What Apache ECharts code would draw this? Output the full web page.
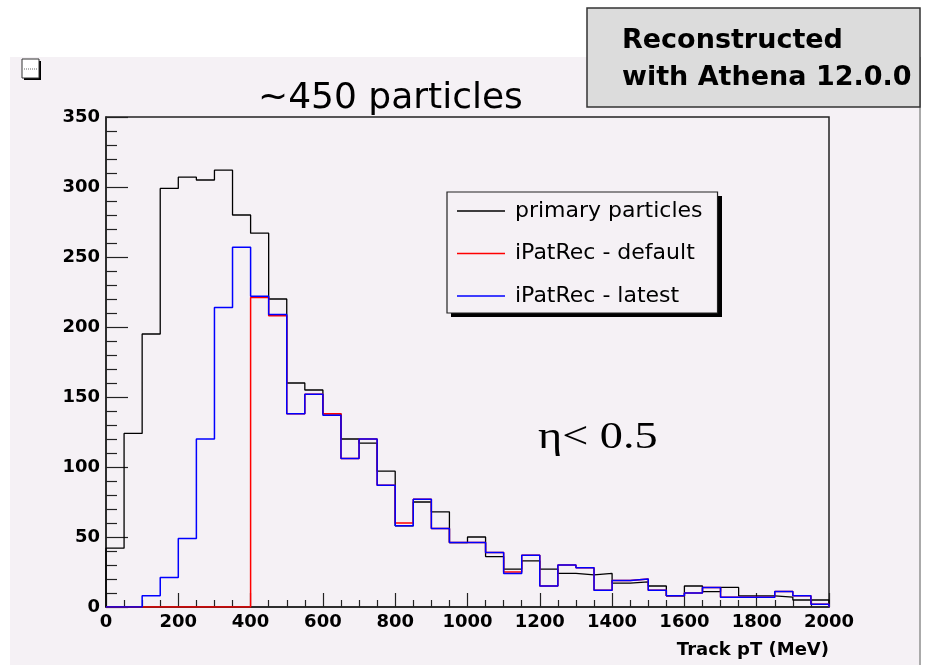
<!DOCTYPE html>
<html>
<head>
<meta charset="utf-8">
<script src="https://cdn.jsdelivr.net/npm/echarts@6/dist/echarts.min.js"></script>
<style>
html,body{margin:0;padding:0;background:#ffffff;}
#chart{width:931px;height:665px;}
</style>
</head>
<body>
<div id="chart"></div>
<script>
// Bin edges (MeV), 50 MeV bins from 0 to 2000
const binEdges = [0,50,100,150,200,250,300,350,400,450,500,550,600,650,700,750,800,850,900,950,
  1000,1050,1100,1150,1200,1250,1300,1350,1400,1450,1500,1550,1600,1650,1700,1750,1800,1850,1900,1950,2000];

// Counts per bin
const primaryParticles = [42,124,195,299,307,305,312,280,267,220,160,155,138,120,117,97,58,75,68,46,
  50,36,27,33,27,24,23,24,17,18,15,8,15,11,14,8,8,7,5,5];
const iPatRecDefault = [0,0,0,0,0,0,0,0,221,208,138,152,138,106,120,87,60,77,56,46,
  46,39,25,37,15,30,28,12,19,20,12,8,10,14,7,7,7,11,8,2];
const iPatRecLatest = [0,0,8,21,49,120,214,257,222,209,138,152,137,106,120,87,58,77,56,46,
  46,39,24,37,15,30,28,12,19,20,12,8,10,14,7,7,7,11,8,2];

const seriesNames = ['primary particles','iPatRec - default','iPatRec - latest'];
const yTicks = [0,50,100,150,200,250,300,350];
const xTicks = [0,200,400,600,800,1000,1200,1400,1600,1800,2000];

function histPoints(values){
  const pts = [[binEdges[0],0]];
  for (let i = 0; i < values.length; i++) pts.push([binEdges[i], values[i]]);
  pts.push([binEdges[binEdges.length-1], values[values.length-1]]);
  pts.push([binEdges[binEdges.length-1], 0]);
  return pts;
}

const chart = echarts.init(document.getElementById('chart'), null, {renderer:'canvas'});
const axisFont = {fontFamily:'DejaVu Sans', fontWeight:'bold', fontSize:18, color:'#000'};

const option = {
  animation:false,
  backgroundColor:'#ffffff',
  title:{
    text:'~450 particles',
    left:253, top:76,
    textStyle:{fontFamily:'DejaVu Sans', fontWeight:'normal', fontSize:36, color:'#000'}
  },
  legend:{
    orient:'vertical',
    left:447, top:192,
    z:6,
    padding:[8,15,6,10],
    itemGap:20.5,
    itemWidth:48, itemHeight:1.5,
    icon:'rect',
    backgroundColor:'#f5f1f5',
    borderColor:'#222', borderWidth:1.2,
    textStyle:{fontFamily:'DejaVu Sans', fontSize:22, color:'#000', lineHeight:22, padding:[0,0,0,5]},
    data:seriesNames
  },
  grid:{
    left:106, right:102, top:117, bottom:58,
    show:true, borderColor:'#222', borderWidth:1.5, backgroundColor:'transparent'
  },
  xAxis:{
    type:'value', min:0, max:2000, interval:200,
    name:'Track pT (MeV)', nameLocation:'end', nameGap:0,
    nameTextStyle:{fontFamily:'DejaVu Sans', fontWeight:'bold', fontSize:18, color:'#000', align:'right', verticalAlign:'top', padding:[34,0,0,0]},
    axisLine:{show:true, onZero:false, lineStyle:{color:'#222', width:1.5}},
    axisTick:{show:true, inside:true, length:14, lineStyle:{color:'#222', width:1.2}},
    minorTick:{show:true, splitNumber:4, length:7, lineStyle:{color:'#222', width:1.2}},
    splitLine:{show:false},
    axisLabel:Object.assign({margin:6, formatter:function(v){return xTicks.indexOf(v)>=0 ? String(v) : '';}}, axisFont)
  },
  yAxis:{
    type:'value', min:0, max:350, interval:50,
    axisLine:{show:true, onZero:false, lineStyle:{color:'#222', width:1.5}},
    axisTick:{show:true, inside:true, length:22, lineStyle:{color:'#222', width:1.2}},
    minorTick:{show:true, splitNumber:5, length:11, lineStyle:{color:'#222', width:1.2}},
    splitLine:{show:false},
    axisLabel:Object.assign({margin:6, formatter:function(v){return yTicks.indexOf(v)>=0 ? String(v) : '';}}, axisFont)
  },
  series:[
    {name:seriesNames[0], type:'line', step:'end', showSymbol:false, data:histPoints(primaryParticles),
     color:'#000000', itemStyle:{color:'#000000'}, lineStyle:{color:'#000000', width:1.3}},
    {name:seriesNames[1], type:'line', step:'end', showSymbol:false, data:histPoints(iPatRecDefault),
     color:'#ff0000', itemStyle:{color:'#ff0000'}, lineStyle:{color:'#ff0000', width:1.5}},
    {name:seriesNames[2], type:'line', step:'end', showSymbol:false, data:histPoints(iPatRecLatest),
     color:'#0000ff', itemStyle:{color:'#0000ff'}, lineStyle:{color:'#0000ff', width:1.5}}
  ],
  graphic:[
    {type:'rect', z:-10, silent:true, shape:{x:10, y:57, width:910, height:608}, style:{fill:'#f5f1f5'}},
    {type:'line', z:-9, silent:true, shape:{x1:920, y1:57, x2:920, y2:665}, style:{stroke:'#aaaaaa', lineWidth:2}},
    // legend drop shadow
    {type:'rect', z:5, silent:true, shape:{x:451, y:196, width:271, height:121}, style:{fill:'#000'}},
    // small frame icon
    {type:'rect', z:5, silent:true, shape:{x:24, y:61, width:17, height:19}, style:{fill:'#000'}},
    {type:'rect', z:6, silent:true, shape:{x:22, y:59, width:17, height:19}, style:{fill:'#ffffff', stroke:'#333', lineWidth:1}},
    {type:'line', z:7, silent:true, shape:{x1:24, y1:69, x2:37, y2:69}, style:{stroke:'#666', lineWidth:1, lineDash:[1,1]}},
    // annotation box
    {type:'rect', z:10, silent:true, shape:{x:587, y:8, width:333, height:99}, style:{fill:'#dcdcdc', stroke:'#333', lineWidth:1.5}},
    {type:'text', z:11, silent:true, x:622, y:41, style:{text:'Reconstructed', fontFamily:'DejaVu Sans', fontWeight:'bold', fontSize:27, fill:'#000', verticalAlign:'middle', align:'left'}},
    {type:'text', z:11, silent:true, x:622, y:78, style:{text:'with Athena 12.0.0', fontFamily:'DejaVu Sans', fontWeight:'bold', fontSize:27, fill:'#000', verticalAlign:'middle', align:'left'}},
    // eta cut label
    {type:'text', z:11, silent:true, x:538, y:438, scaleX:1.25, style:{text:'\u03b7< 0.5', fontFamily:'Liberation Serif', fontSize:37, fill:'#000', verticalAlign:'middle', align:'left'}}
  ]
};
chart.setOption(option);
</script>
</body>
</html>
